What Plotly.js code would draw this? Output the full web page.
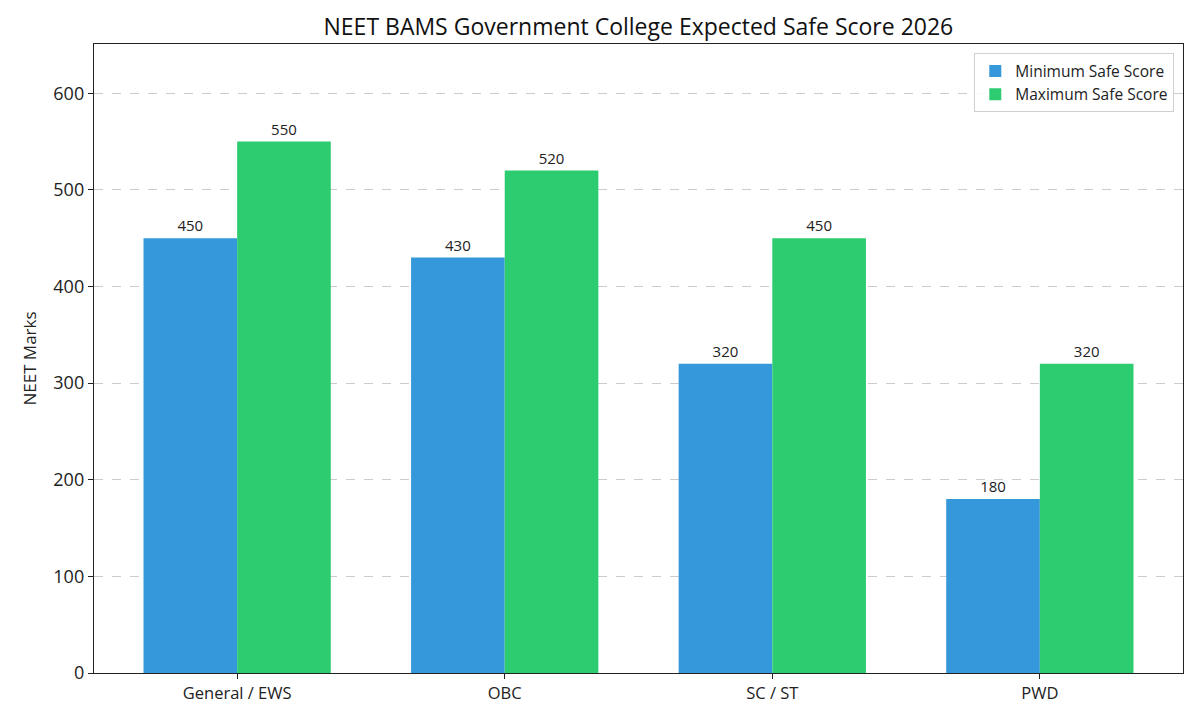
<!DOCTYPE html>
<html>
<head>
<meta charset="utf-8">
<script src="https://cdn.plot.ly/plotly-3.0.1.min.js"></script>
<style>html,body{margin:0;padding:0;background:#fff;}#chart{width:1200px;height:720px;}</style>
</head>
<body>
<div id="chart"></div>
<script>
const categories = ["General / EWS", "OBC", "SC / ST", "PWD"];
const minScores = [450, 430, 320, 180];
const maxScores = [550, 520, 450, 320];
const seriesNames = ["Minimum Safe Score", "Maximum Safe Score"];
const yTicks = [0, 100, 200, 300, 400, 500, 600];

const FONT = "'Open Sans', 'DejaVu Sans', sans-serif";

const traces = [
  {
    type: "bar", name: seriesNames[0], x: categories, y: minScores,
    marker: {color: "#3498db"},
    text: minScores.map(String), textposition: "outside", cliponaxis: false,
    textfont: {family: FONT, size: 15, color: "#222"}
  },
  {
    type: "bar", name: seriesNames[1], x: categories, y: maxScores,
    marker: {color: "#2ecc71"},
    text: maxScores.map(String), textposition: "outside", cliponaxis: false,
    textfont: {family: FONT, size: 15, color: "#222"}
  }
];

const layout = {
  width: 1200, height: 720,
  margin: {l: 94, r: 17, t: 44, b: 47},
  paper_bgcolor: "#fff", plot_bgcolor: "#fff",
  font: {family: FONT, size: 15, color: "#222"},
  title: {text: "NEET BAMS Government College Expected Safe Score 2026", x: 0.532, xanchor: "center", y: 0.962, yanchor: "middle", font: {family: FONT, size: 23, color: "#111"}},
  barmode: "group", bargap: 0.3, bargroupgap: 0,
  xaxis: {
    range: [-0.535, 3.535], showline: true, linecolor: "#222", linewidth: 1.2, mirror: true,
    ticks: "outside", ticklen: 5, tickcolor: "#222", showgrid: false,
    tickfont: {family: FONT, size: 16.5, color: "#222"}
  },
  yaxis: {
    range: [0, 651], tickvals: yTicks, showline: true, linecolor: "#222", linewidth: 1.2, mirror: true,
    ticks: "outside", ticklen: 5, tickcolor: "#222",
    showgrid: true, gridcolor: "#cccccc", griddash: "dash", gridwidth: 1, zeroline: false,
    tickfont: {family: FONT, size: 18, color: "#222"},
    title: {text: "NEET Marks", font: {family: FONT, size: 17, color: "#222"}, standoff: 12}
  },
  legend: {
    x: 0.992, xanchor: "right", y: 0.985, yanchor: "top",
    bordercolor: "#d0d0d0", borderwidth: 1, bgcolor: "rgba(255,255,255,0.9)",
    font: {family: FONT, size: 15.5, color: "#222"}, tracegroupgap: 2
  },
  showlegend: true
};

Plotly.newPlot("chart", traces, layout, {displayModeBar: false, staticPlot: true});
</script>
</body>
</html>
